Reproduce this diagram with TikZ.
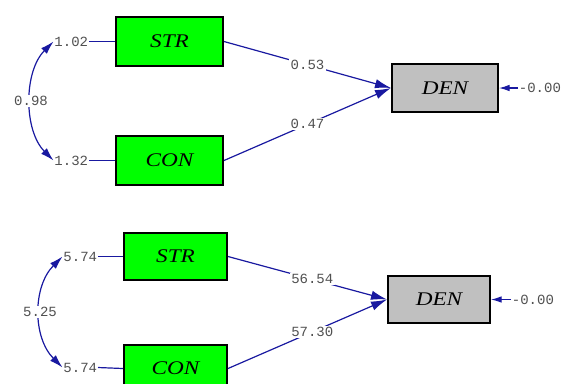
\documentclass[tikz,border=0pt]{standalone}
\usepackage{fontspec}
\newfontfamily\boxfont[FakeStretch=1.2]{Liberation Serif}
\newfontfamily\labfont{Liberation Mono}
\usetikzlibrary{arrows.meta}
\definecolor{pathblue}{RGB}{25,25,160}
\definecolor{labgray}{RGB}{80,80,80}
\definecolor{boxgreen}{RGB}{0,255,0}
\definecolor{boxgray}{RGB}{192,192,192}
\begin{document}
\begin{tikzpicture}[x=0.75pt,y=-0.75pt,
  boxbase/.style={draw=black,line width=1.5pt,inner sep=0pt,
    font=\boxfont\itshape\fontsize{14.5}{14.5}\selectfont},
  obsvar/.style={boxbase,fill=boxgreen},
  endvar/.style={boxbase,fill=boxgray},
  lab/.style={inner sep=0.5pt,text=labgray,font=\labfont\fontsize{10.5}{10.5}\selectfont},
  onlab/.style={lab,fill=white,inner sep=1pt},
  conn/.style={draw=pathblue,line width=0.9pt},
  path/.style={conn,-{Latex[length=12pt,width=7pt]}},
  errpath/.style={conn,-{Latex[length=8pt,width=5pt]}},
  covpath/.style={conn,{Latex[length=10pt,width=6pt]}-{Latex[length=10pt,width=6pt]}},
]
\useasboundingbox (0,0) rectangle (563,383);

% ---------- top model ----------
\node[obsvar,minimum width=80.25pt,minimum height=36.75pt] (s1) at (169.5,41.5) {STR};
\node[obsvar,minimum width=80.25pt,minimum height=36.75pt] (c1) at (169.5,160.5) {CON};
\node[endvar,minimum width=79.5pt,minimum height=36pt] (d1) at (445,88) {DEN};

\node[lab,anchor=east] (vs1) at (89,41.5) {1.02};
\node[lab,anchor=east] (vc1) at (89,160.5) {1.32};
\node[lab,anchor=west] (e1) at (518,88) {-0.00};

\draw[conn] (vs1.east) -- (s1.west);
\draw[conn] (vc1.east) -- (c1.west);
\draw[covpath] (vs1.west) .. controls +(-30,30) and +(-30,-30) .. (vc1.west)
  node[onlab,pos=0.5] (cv1) {0.98};
\draw[path] (s1.east) -- (d1.west) node[onlab,pos=0.5] (p1) {0.53};
\draw[path] (c1.east) -- (d1.west) node[onlab,pos=0.5] (p2) {0.47};
\draw[errpath] (e1.west) -- (d1.east);

% ---------- bottom model ----------
\node[obsvar,minimum width=77.25pt,minimum height=35.25pt] (s2) at (175.5,256.5) {STR};
\node[obsvar,minimum width=77.25pt,minimum height=35.25pt] (c2) at (175.5,368.5) {CON};
\node[endvar,minimum width=76.5pt,minimum height=35.25pt] (d2) at (439,299.5) {DEN};

\node[lab,anchor=east] (vs2) at (98,256.5) {5.74};
\node[lab,anchor=east] (vc2) at (98,367.5) {5.74};
\node[lab,anchor=west] (e2) at (511,299.5) {-0.00};

\draw[conn] (vs2.east) -- (s2.west);
\draw[conn] (vc2.east) -- (c2.west);
\draw[covpath] (vs2.west) .. controls +(-30,30) and +(-30,-30) .. (vc2.west)
  node[onlab,pos=0.5] (cv2) {5.25};
\draw[path] (s2.east) -- (d2.west) node[onlab,pos=0.53] (p3) {56.54};
\draw[path] (c2.east) -- (d2.west) node[onlab,pos=0.53] (p4) {57.30};
\draw[errpath] (e2.west) -- (d2.east);
\end{tikzpicture}
\end{document}
